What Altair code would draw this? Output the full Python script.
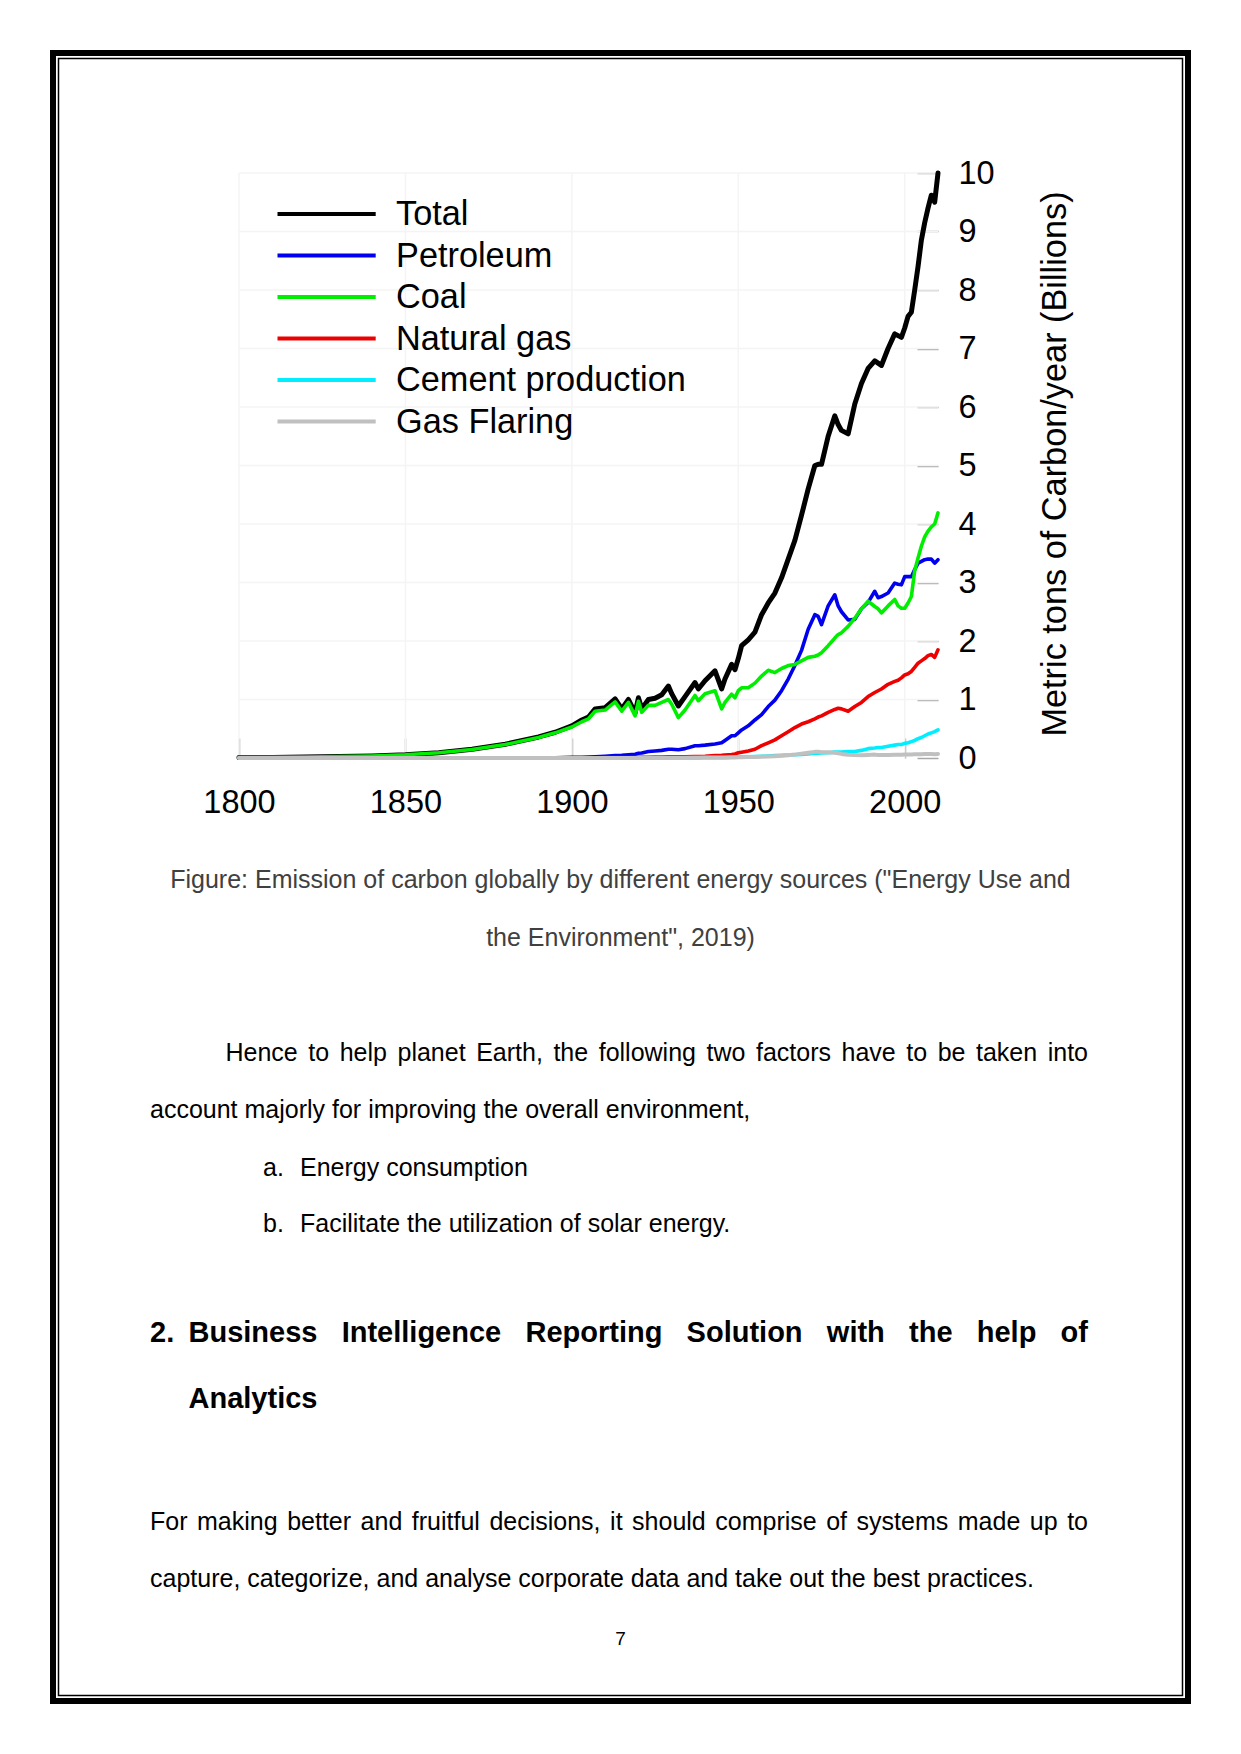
import altair as alt
import pandas as pd

# ---------------- data ----------------
years = [1800, 1810, 1820, 1830, 1840, 1850, 1860, 1870, 1880, 1890,
         1895, 1900, 1903, 1905, 1907, 1910, 1913, 1915, 1917, 1919,
         1920, 1921, 1923, 1925, 1927, 1929, 1930, 1932, 1934, 1937,
         1938, 1940, 1943, 1945, 1946, 1948, 1949, 1950, 1951, 1953,
         1955, 1957, 1959, 1961, 1963, 1965, 1967, 1969, 1971, 1973,
         1974, 1975, 1977, 1979, 1980, 1981, 1983, 1985, 1987, 1989,
         1991, 1992, 1993, 1995, 1997, 1998, 1999, 2000, 2001, 2002,
         2003, 2004, 2005, 2006, 2007, 2008, 2009, 2010]

total = [0.01, 0.01, 0.015, 0.025, 0.035, 0.055, 0.09, 0.15, 0.235, 0.36,
         0.44, 0.55, 0.65, 0.70, 0.84, 0.86, 1.01, 0.84, 1.00, 0.77,
         1.03, 0.84, 1.00, 1.02, 1.08, 1.23, 1.10, 0.89, 1.05, 1.29,
         1.18, 1.32, 1.49, 1.18, 1.35, 1.60, 1.51, 1.70, 1.92, 2.02,
         2.15, 2.45, 2.65, 2.82, 3.08, 3.40, 3.72, 4.15, 4.60, 5.00,
         5.02, 5.02, 5.50, 5.85, 5.70, 5.60, 5.54, 6.05, 6.40, 6.66,
         6.79, 6.75, 6.71, 7.00, 7.25, 7.22, 7.19, 7.35, 7.55, 7.62,
         8.00, 8.40, 8.85, 9.15, 9.40, 9.62, 9.50, 10.00]

petroleum = [0.0, 0.0, 0.0, 0.0, 0.0, 0.0, 0.0, 0.0, 0.0, 0.003,
             0.005, 0.01, 0.012, 0.015, 0.02, 0.03, 0.04, 0.045, 0.055, 0.065,
             0.08, 0.085, 0.11, 0.12, 0.13, 0.15, 0.15, 0.14, 0.16, 0.21,
             0.21, 0.22, 0.24, 0.26, 0.30, 0.38, 0.38, 0.43, 0.48, 0.55,
             0.65, 0.74, 0.88, 0.99, 1.15, 1.35, 1.58, 1.84, 2.20, 2.45,
             2.42, 2.28, 2.60, 2.79, 2.60, 2.50, 2.36, 2.37, 2.55, 2.66,
             2.85, 2.74, 2.76, 2.82, 2.99, 2.97, 2.96, 3.10, 3.10, 3.10,
             3.22, 3.33, 3.36, 3.39, 3.40, 3.40, 3.33, 3.39]

coal = [0.01, 0.01, 0.015, 0.025, 0.035, 0.055, 0.09, 0.145, 0.23, 0.35,
        0.43, 0.53, 0.62, 0.67, 0.80, 0.82, 0.96, 0.80, 0.95, 0.72,
        0.97, 0.78, 0.90, 0.90, 0.95, 1.00, 0.92, 0.69, 0.82, 1.07,
        0.98, 1.10, 1.15, 0.84, 0.95, 1.09, 1.03, 1.15, 1.20, 1.20,
        1.28, 1.40, 1.50, 1.46, 1.53, 1.58, 1.60, 1.66, 1.72, 1.74,
        1.76, 1.80, 1.92, 2.05, 2.11, 2.14, 2.25, 2.39, 2.55, 2.68,
        2.59, 2.55, 2.48, 2.60, 2.71, 2.60, 2.56, 2.56, 2.65, 2.76,
        3.20, 3.42, 3.62, 3.78, 3.88, 3.95, 4.00, 4.19]

natural_gas = [0.0, 0.0, 0.0, 0.0, 0.0, 0.0, 0.0, 0.0, 0.0, 0.002,
               0.002, 0.003, 0.004, 0.004, 0.005, 0.006, 0.007, 0.008, 0.009, 0.01,
               0.01, 0.01, 0.013, 0.015, 0.017, 0.02, 0.02, 0.02, 0.022, 0.025,
               0.026, 0.03, 0.04, 0.045, 0.05, 0.06, 0.07, 0.09, 0.10, 0.12,
               0.15, 0.21, 0.26, 0.31, 0.38, 0.45, 0.52, 0.58, 0.62, 0.67,
               0.70, 0.72, 0.78, 0.83, 0.85, 0.84, 0.80, 0.88, 0.95, 1.05,
               1.12, 1.15, 1.18, 1.26, 1.31, 1.33, 1.37, 1.42, 1.44, 1.48,
               1.55, 1.62, 1.66, 1.70, 1.75, 1.77, 1.72, 1.85]

cement = [0.0, 0.0, 0.0, 0.0, 0.0, 0.0, 0.0, 0.0, 0.0, 0.0,
          0.0, 0.001, 0.001, 0.002, 0.002, 0.002, 0.003, 0.003, 0.003, 0.003,
          0.004, 0.004, 0.005, 0.006, 0.007, 0.008, 0.008, 0.007, 0.008, 0.01,
          0.01, 0.01, 0.01, 0.01, 0.011, 0.015, 0.016, 0.018, 0.02, 0.022,
          0.026, 0.03, 0.035, 0.04, 0.045, 0.05, 0.055, 0.062, 0.07, 0.08,
          0.082, 0.085, 0.09, 0.10, 0.10, 0.10, 0.11, 0.11, 0.13, 0.16,
          0.17, 0.18, 0.18, 0.20, 0.22, 0.23, 0.23, 0.25, 0.26, 0.28,
          0.30, 0.33, 0.35, 0.38, 0.41, 0.43, 0.45, 0.48]

gas_flaring = [0.0, 0.0, 0.0, 0.0, 0.0, 0.0, 0.0, 0.0, 0.0, 0.0,
               0.0, 0.0, 0.0, 0.0, 0.0, 0.0, 0.0, 0.0, 0.0, 0.0,
               0.0, 0.0, 0.0, 0.0, 0.0, 0.0, 0.0, 0.0, 0.0, 0.0,
               0.002, 0.003, 0.004, 0.005, 0.006, 0.008, 0.009, 0.012, 0.013, 0.015,
               0.018, 0.022, 0.027, 0.032, 0.038, 0.048, 0.058, 0.075, 0.09, 0.105,
               0.108, 0.10, 0.098, 0.09, 0.08, 0.07, 0.055, 0.05, 0.048, 0.052,
               0.058, 0.05, 0.05, 0.052, 0.055, 0.055, 0.055, 0.058, 0.06, 0.06,
               0.062, 0.064, 0.066, 0.068, 0.07, 0.068, 0.066, 0.07]

series_names = ["Total", "Petroleum", "Coal", "Natural gas",
                "Cement production", "Gas Flaring"]
series_values = [total, petroleum, coal, natural_gas, cement, gas_flaring]
series_colors = ["#000000", "#0000ee", "#00ee00", "#ee0000", "#00eeff", "#c0c0c0"]
series_widths = [5.0, 3.6, 3.6, 3.6, 3.6, 4.0]

x_ticks = [1800, 1850, 1900, 1950, 2000]
y_ticks = [0, 1, 2, 3, 4, 5, 6, 7, 8, 9, 10]
y_title = "Metric tons of Carbon/year (Billions)"

caption1 = "Figure: Emission of carbon globally by different energy sources (\"Energy Use and"
caption2 = "the Environment\", 2019)"
para1_line1 = "Hence to help planet Earth, the following two factors have to be taken into"
para1_line2 = "account majorly for improving the overall environment,"
item_a = ["a.", "Energy consumption"]
item_b = ["b.", "Facilitate the utilization of solar energy."]
heading_num = "2."
heading_line1 = "Business Intelligence Reporting Solution with the help of"
heading_line2 = "Analytics"
para2_line1 = "For making better and fruitful decisions, it should comprise of systems made up to"
para2_line2 = "capture, categorize, and analyse corporate data and take out the best practices."
page_number = "7"

# ---------------- layout ----------------
PAGE_W, PAGE_H = 1241, 1754
PL, PT = 239, 173          # plot origin on the page
W, H = 699, 585            # plot size
FONT = "Liberation Sans"

rows = []
for name, vals in zip(series_names, series_values):
    for yr, v in zip(years, vals):
        rows.append({"year": yr, "value": v, "series": name})
long_df = pd.DataFrame(rows)

xscale = alt.Scale(domain=[1800, 2010], nice=False, zero=False)
yscale = alt.Scale(domain=[0, 10], nice=False, zero=False)

XAXIS = alt.Axis(
    values=x_ticks, format="d", title=None, grid=False, domain=False,
    ticks=True, tickSize=20, tickColor="#a8a8a8", tickWidth=1.5, offset=-20,
    labelPadding=54, labelBaseline="alphabetic", labelFlush=False,
    labelOverlap=False, labelFont=FONT, labelFontSize=32.5, labelColor="#000000")
YAXIS = alt.Axis(
    orient="right", values=y_ticks, grid=False, domain=False,
    ticks=True, tickSize=21, tickColor="#a8a8a8", tickWidth=1.5, offset=-21,
    labelPadding=20, labelAlign="left", labelBaseline="middle", labelFlush=False,
    labelOverlap=False, labelFont=FONT, labelFontSize=32.5, labelColor="#000000",
    title=y_title, titleAngle=270, titleX=138, titleY=H / 2 - 2,
    titleAlign="center", titleBaseline="middle", titleFont=FONT,
    titleFontSize=34.3, titleFontWeight="normal", titleColor="#000000")

one = pd.DataFrame({"k": [0]})

# Arial / Liberation Sans advance widths (per 1000 em) for justification
REG = {' ': 278, '!': 278, '"': 355, "'": 191, '(': 333, ')': 333, ',': 278,
       '-': 333, '.': 278, '/': 278, ':': 278, ';': 278}
for c in "0123456789":
    REG[c] = 556
REG.update(dict(zip("ABCDEFGHIJKLMNOPQRSTUVWXYZ",
                    [667, 667, 722, 722, 667, 611, 778, 722, 278, 500, 667, 556, 833,
                     722, 778, 667, 778, 722, 667, 611, 722, 667, 944, 667, 667, 611])))
REG.update(dict(zip("abcdefghijklmnopqrstuvwxyz",
                    [556, 556, 500, 556, 556, 278, 556, 556, 222, 222, 500, 222, 833,
                     556, 556, 556, 556, 333, 500, 278, 556, 500, 722, 500, 500, 500])))
BOLD = {' ': 278, ',': 278, '.': 278, '-': 333}
for c in "0123456789":
    BOLD[c] = 556
BOLD.update(dict(zip("ABCDEFGHIJKLMNOPQRSTUVWXYZ",
                     [722, 722, 722, 722, 667, 611, 778, 722, 278, 556, 722, 611, 833,
                      722, 778, 667, 778, 722, 667, 611, 722, 667, 944, 667, 667, 611])))
BOLD.update(dict(zip("abcdefghijklmnopqrstuvwxyz",
                     [556, 611, 556, 611, 556, 333, 611, 611, 278, 278, 556, 278, 889,
                      611, 611, 611, 611, 389, 556, 333, 611, 556, 778, 556, 556, 500])))


def text_width(s, size, bold=False):
    t = BOLD if bold else REG
    return sum(t.get(c, 556) for c in s) * size / 1000.0


def txt(s, px, py, size=25, bold=False, color="#000000", align="left"):
    return alt.Chart(one).mark_text(
        font=FONT, fontSize=size, fontWeight="bold" if bold else "normal",
        color=color, align=align, baseline="alphabetic"
    ).encode(x=alt.value(px - PL), y=alt.value(py - PT), text=alt.value(s))


def justified(line, left, right, py, size=25, bold=False, color="#000000"):
    words = line.split(" ")
    widths = [text_width(w, size, bold) for w in words]
    gap = (right - left - sum(widths)) / (len(words) - 1)
    out = []
    x = left
    for w, wd in zip(words, widths):
        out.append(txt(w, x, py, size, bold, color))
        x += wd + gap
    return out


# faint grid
grid_x = pd.DataFrame({"year": x_ticks})
grid_y = pd.DataFrame({"value": y_ticks[1:]})
layers = [
    alt.Chart(grid_x).mark_rule(color="#f4f4f4", strokeWidth=1.5).encode(
        x=alt.X("year:Q", scale=xscale, axis=XAXIS), y=alt.value(0), y2=alt.value(H)),
    alt.Chart(grid_y).mark_rule(color="#f4f4f4", strokeWidth=1.5).encode(
        y=alt.Y("value:Q", scale=yscale, axis=YAXIS), x=alt.value(0), x2=alt.value(W)),
]

# series lines
for name, col, sw in zip(series_names, series_colors, series_widths):
    layers.append(alt.Chart(long_df).transform_filter(alt.datum.series == name)
                  .mark_line(color=col, strokeWidth=sw, strokeJoin="round", strokeCap="round")
                  .encode(x=alt.X("year:Q", scale=xscale, axis=XAXIS),
                          y=alt.Y("value:Q", scale=yscale, axis=YAXIS),
                          order="year:Q"))

# page border (thick outer, thin inner)
layers.append(alt.Chart(one).mark_rect(fill="white", fillOpacity=0, stroke="black", strokeWidth=6)
              .encode(x=alt.value(53 - PL), x2=alt.value(1188 - PL),
                      y=alt.value(53 - PT), y2=alt.value(1701 - PT)))
layers.append(alt.Chart(one).mark_rect(fill="white", fillOpacity=0, stroke="black", strokeWidth=1.5)
              .encode(x=alt.value(58.5 - PL), x2=alt.value(1182.5 - PL),
                      y=alt.value(58.5 - PT), y2=alt.value(1695.5 - PT)))

# manual legend
for i, (name, col) in enumerate(zip(series_names, series_colors)):
    ly = 214 + 41.5 * i
    layers.append(alt.Chart(one).mark_rule(color=col, strokeWidth=4).encode(
        x=alt.value(277.5 - PL), x2=alt.value(375.7 - PL), y=alt.value(ly - PT)))
    layers.append(txt(name, 396, ly + 11, size=34.3))

# caption
layers.append(txt(caption1, 620.5, 888, 25, color="#404040", align="center"))
layers.append(txt(caption2, 620.5, 946, 25, color="#404040", align="center"))

# body text
layers += justified(para1_line1, 225.5, 1088, 1061)
layers.append(txt(para1_line2, 150, 1118))
layers.append(txt(item_a[0], 263, 1176))
layers.append(txt(item_a[1], 300, 1176))
layers.append(txt(item_b[0], 263, 1232))
layers.append(txt(item_b[1], 300, 1232))
layers.append(txt(heading_num, 150, 1342, 29, bold=True))
layers += justified(heading_line1, 188.5, 1088, 1342, 29, bold=True)
layers.append(txt(heading_line2, 188.5, 1408, 29, bold=True))
layers += justified(para2_line1, 150, 1088, 1530)
layers.append(txt(para2_line2, 150, 1587))
layers.append(txt(page_number, 620.5, 1645, 19, align="center"))

chart = alt.layer(*layers).properties(
    width=W, height=H,
    padding={"left": PL, "top": PT, "right": PAGE_W - PL - W, "bottom": PAGE_H - PT - H},
    autosize=alt.AutoSizeParams(type="none"),
    background="white",
).configure_view(strokeWidth=0)

chart.save("out.html", embed_options={"renderer": "svg", "actions": False})
